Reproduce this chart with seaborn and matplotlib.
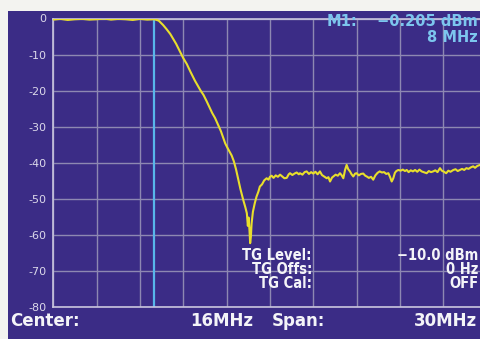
import matplotlib
matplotlib.use("Agg")
import matplotlib.pyplot as plt
import seaborn as sns
import pandas as pd
from matplotlib.patches import Rectangle

# ---------------- data ----------------
freq_mhz = [
    1.0, 1.5, 2.0, 2.5, 3.0, 3.5, 4.0, 4.5, 5.0, 5.5, 6.0, 6.5, 7.0, 7.5, 8.0,
    8.3, 8.6, 8.85, 9.1, 9.5, 9.8, 10.0, 10.24, 10.5, 10.8, 11.0, 11.2, 11.4,
    11.6, 11.8, 12.0, 12.2, 12.4, 12.6, 12.76, 12.9, 13.05, 13.2, 13.35, 13.5,
    13.65, 13.8, 13.95, 14.15, 14.3, 14.4, 14.47, 14.52, 14.58, 14.63, 14.68,
    14.73, 14.82, 14.95, 15.07, 15.2, 15.3, 15.45, 15.6, 15.77, 15.9, 16.0,
    16.12, 16.25, 16.4, 16.55, 16.7, 16.85, 17.0, 17.16, 17.3, 17.39, 17.55,
    17.7, 17.85, 18.0, 18.08, 18.25, 18.4, 18.54, 18.7, 18.85, 19.0, 19.15,
    19.3, 19.46, 19.6, 19.75, 19.93, 20.05, 20.16, 20.3, 20.39, 20.55, 20.7,
    20.85, 20.97, 21.08, 21.2, 21.31, 21.42, 21.54, 21.65, 21.77, 21.9, 22.0,
    22.15, 22.3, 22.46, 22.6, 22.7, 22.85, 23.0, 23.15, 23.3, 23.45, 23.6,
    23.75, 23.9, 24.05, 24.2, 24.32, 24.43, 24.54, 24.65, 24.75, 24.89, 25.05,
    25.2, 25.35, 25.47, 25.6, 25.75, 25.9, 26.05, 26.2, 26.35, 26.5, 26.7,
    26.85, 27.0, 27.15, 27.3, 27.45, 27.6, 27.77, 27.9, 28.05, 28.2, 28.35,
    28.5, 28.7, 28.85, 29.0, 29.15, 29.3, 29.45, 29.6, 29.75, 29.9, 30.07,
    30.2, 30.35, 30.54, 30.7, 31.0,
]
level_dbm = [
    -0.3, -0.1, -0.4, -0.2, -0.1, -0.3, -0.2, 0.0, -0.3, -0.1, -0.2, -0.4, -0.1, -0.3, -0.2,
    -0.6, -1.8, -3.0, -4.3, -7.0, -9.4, -11.0, -12.6, -14.8, -17.2, -18.6, -20.0, -21.2,
    -22.8, -24.5, -26.2, -27.6, -29.4, -31.2, -33.0, -34.6, -35.8, -36.9, -38.0, -39.6,
    -41.8, -44.5, -47.2, -50.3, -52.4, -54.0, -57.5, -55.2, -58.5, -62.3, -60.5,
    -56.8, -53.6, -51.2, -49.4, -48.0, -46.6, -46.0, -44.9, -44.3, -44.7, -43.9,
    -43.6, -44.2, -43.5, -43.9, -43.3, -43.8, -44.3, -44.2, -43.2, -42.9, -43.4,
    -43.0, -42.7, -43.2, -42.9, -43.3, -42.6, -42.4, -43.1, -42.6, -43.0, -42.5,
    -43.2, -42.4, -43.4, -43.8, -44.3, -44.0, -45.2, -44.1, -43.8, -43.3, -43.6,
    -42.9, -43.5, -44.3, -42.0, -40.6, -41.8, -42.4, -43.2, -43.8, -43.0, -42.9,
    -43.5, -43.1, -43.0, -43.6, -43.8, -44.2, -43.9, -44.7, -43.5, -42.8, -42.4,
    -42.7, -42.6, -43.1, -42.9, -44.0, -45.2, -44.3, -42.8, -42.3, -42.0, -42.2,
    -41.9, -42.3, -42.0, -42.6, -42.1, -42.4, -42.0, -42.5, -41.9, -42.4, -42.7,
    -42.9, -42.3, -42.6, -42.4, -42.1, -42.6, -41.5, -42.2, -42.5, -42.9, -42.2,
    -42.5, -42.0, -41.8, -42.3, -42.0, -41.7, -42.0, -41.5, -41.7, -41.3, -41.0,
    -41.4, -40.9, -40.6, -41.0, -40.8,
]
marker_freq = 8
x_ticks = list(range(1, 32, 3))
y_ticks = [0, -10, -20, -30, -40, -50, -60, -70, -80]
y_tick_labels = ["0", "-10", "-20", "-30", "-40", "-50", "-60", "-70", "-80"]

# ---------------- style ----------------
W, H = 480, 339
BLUE = "#3b2c86"
GRID = "#8d88b2"
SPINE = "#c9c5de"
TRACE = "#e8de2c"
CYAN = "#7cc6ee"
MARK = "#58b6ea"
WHITE = "#f4f4f8"

sns.set_theme(style="dark")
plt.rcParams["font.family"] = ["DejaVu Sans"]

fig = plt.figure(figsize=(W / 100, H / 100), dpi=100, facecolor="#f3f3f0")
fig.patches.append(Rectangle((8 / W, 0), 1, (H - 11) / H, transform=fig.transFigure,
                             facecolor=BLUE, edgecolor="none", zorder=-1))

top_px, bot_px = 18.5, 307.0
left_px, right_px = 53.3, 486.6
ax = fig.add_axes([left_px / W, 1 - bot_px / H, (right_px - left_px) / W, (bot_px - top_px) / H])
ax.set_facecolor("none")

df = pd.DataFrame({"freq": freq_mhz, "level": level_dbm})
ax.axvline(marker_freq, color=MARK, lw=1.6, zorder=2)
sns.lineplot(data=df, x="freq", y="level", ax=ax, color=TRACE, lw=1.5, zorder=3)

ax.set_xlim(1, 31)
ax.set_ylim(-80, 0)
ax.set_xticks(x_ticks, labels=[""] * len(x_ticks))
ax.set_yticks(y_ticks, labels=y_tick_labels)
ax.tick_params(axis="both", length=0)
ax.tick_params(axis="y", pad=5, labelcolor="#dcd9ea", labelsize=8)
ax.grid(True, color=GRID, lw=1.0)
ax.set_xlabel("")
ax.set_ylabel("")
for side in ["left", "bottom", "top"]:
    ax.spines[side].set_visible(True)
    ax.spines[side].set_color(SPINE)
    ax.spines[side].set_linewidth(1.2)
ax.spines["right"].set_visible(False)


def ftext(x, y, s, ha="left", color=WHITE, size=11, weight="bold", **kw):
    fig.text(x / W, 1 - y / H, s, ha=ha, va="center", color=color,
             fontsize=size, fontweight=weight, **kw)


# marker readout
ftext(327, 22, "M1:", color=CYAN, size=10.5)
ftext(478, 22, "\u22120.205 dBm", ha="right", color=CYAN, size=10.5)
ftext(478, 37, "8 MHz", ha="right", color=CYAN, size=10.5)

# tracking generator info
cond = dict(fontstretch="condensed")
ftext(312, 256, "TG Level:", ha="right", size=10.5, **cond)
ftext(312, 269.5, "TG Offs:", ha="right", size=10.5, **cond)
ftext(312, 283, "TG Cal:", ha="right", size=10.5, **cond)
ftext(478, 256, "\u221210.0 dBm", ha="right", size=10.5, **cond)
ftext(478, 269.5, "0 Hz", ha="right", size=10.5, **cond)
ftext(478, 283, "OFF", ha="right", size=10.5, **cond)

# bottom line
ftext(10, 321, "Center:", size=12)
ftext(253, 321, "16MHz", ha="right", size=12)
ftext(272, 321, "Span:", size=12)
ftext(477, 321, "30MHz", ha="right", size=12)

fig.savefig("out.png", dpi=100, facecolor=fig.get_facecolor())
